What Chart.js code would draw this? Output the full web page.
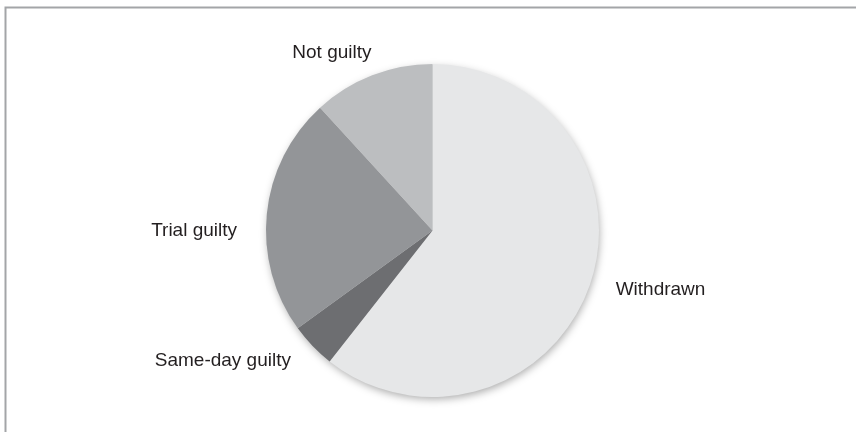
<!DOCTYPE html>
<html>
<head>
<meta charset="utf-8">
<script src="https://cdn.jsdelivr.net/npm/chart.js@4.4.1/dist/chart.umd.min.js"></script>
<style>
  html, body { margin: 0; padding: 0; background: #fff; }
  #wrap { width: 856px; height: 432px; position: relative; }
</style>
</head>
<body>
<div id="wrap"><canvas id="pieChart" width="856" height="432"></canvas></div>
<script>
// data (share of cases, %)
const categories = ['Withdrawn', 'Same-day guilty', 'Trial guilty', 'Not guilty'];
const shares = [60.6, 4.4, 23.2, 11.8];
const sliceColors = ['#e6e7e8', '#6d6e71', '#939598', '#bcbec0'];

// where each label sits, in units of the pie radius from its centre
const labelSpots = [
    { ux: 1.10, uy: 0.357, align: 'left' },
    { ux: -0.85, uy: 0.784, align: 'right' },
    { ux: -1.174, uy: 0.003, align: 'right' },
    { ux: -0.604, uy: -1.066, align: 'center' }
];

// frame (top + left rule) and soft shadow under the pie
const framePlugin = {
    id: 'frame',
    beforeDraw(chart) {
        const c = chart.ctx;
        c.save();
        c.strokeStyle = '#a3a5a8';
        c.lineWidth = 2;
        c.beginPath();
        c.moveTo(5.5, chart.height);
        c.lineTo(5.5, 7.5);
        c.lineTo(chart.width, 7.5);
        c.stroke();
        c.restore();
    },
    beforeDatasetsDraw(chart) {
        const arc = chart.getDatasetMeta(0).data[0];
        if (!arc) return;
        const c = chart.ctx;
        c.save();
        c.shadowColor = 'rgba(0,0,0,0.35)';
        c.shadowBlur = 9;
        c.shadowOffsetX = 1;
        c.shadowOffsetY = 3;
        c.fillStyle = '#d0d0d0';
        c.beginPath();
        c.arc(arc.x, arc.y, arc.outerRadius - 1, 0, Math.PI * 2);
        c.fill();
        c.restore();
    }
};

const labelPlugin = {
    id: 'sliceLabels',
    afterDatasetsDraw(chart) {
        const arc = chart.getDatasetMeta(0).data[0];
        if (!arc) return;
        const c = chart.ctx;
        const r = arc.outerRadius;
        c.save();
        c.font = '19px "Liberation Sans", Arial, sans-serif';
        c.fillStyle = '#231f20';
        c.textBaseline = 'middle';
        categories.forEach((name, i) => {
            const s = labelSpots[i];
            c.textAlign = s.align;
            c.fillText(name, arc.x + s.ux * r, arc.y + s.uy * r);
        });
        c.restore();
    }
};

const ctx = document.getElementById('pieChart').getContext('2d');
const chart = new Chart(ctx, {
    type: 'pie',
    data: {
        labels: categories,
        datasets: [{
            data: shares,
            backgroundColor: sliceColors,
            borderWidth: 0
        }]
    },
    options: {
        responsive: false,
        animation: false,
        layout: { padding: { top: 64, bottom: 35, left: 9, right: 0 } },
        plugins: {
            legend: { display: false },
            tooltip: { enabled: false }
        }
    },
    plugins: [framePlugin, labelPlugin]
});
</script>
</body>
</html>
